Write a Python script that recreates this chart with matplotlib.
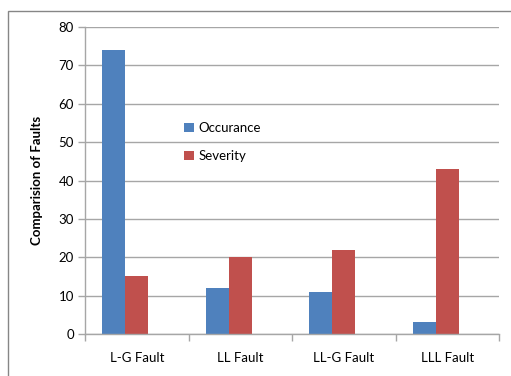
import matplotlib
matplotlib.use("Agg")
import matplotlib.pyplot as plt
from matplotlib.patches import Rectangle
import numpy as np

categories = ["L-G Fault", "LL Fault", "LL-G Fault", "LLL Fault"]
occurance = [74, 12, 11, 3]
severity = [15, 20, 22, 43]

BLUE = "#4F81BD"
RED = "#C0504D"
GRID = "#A6A6A6"
FS = 9.5

plt.rcParams["font.family"] = ["Lato", "DejaVu Sans"]

W, H = 511, 376
fig = plt.figure(figsize=(W / 100, H / 100), dpi=100)

# outer chart frame (only top and left edges fall inside the image)
fig.patches.append(Rectangle((8 / W, -0.1), 1.2, 1 - 11 / H + 0.1,
                             transform=fig.transFigure, fill=False,
                             edgecolor="#868686", linewidth=1.0))

ax = fig.add_axes([85 / W, 1 - 334 / H, (499 - 85) / W, (334 - 27) / H])

x = np.arange(len(categories))
w = 0.2222
ax.bar(x - w, occurance, width=w, color=BLUE, label="Occurance")
ax.bar(x, severity, width=w, color=RED, label="Severity")

ax.set_xlim(-0.5, len(categories) - 0.5)
ax.set_ylim(0, 80)
ax.set_yticks(range(0, 81, 10))
ax.yaxis.grid(True, color=GRID, linewidth=1.0)
ax.set_axisbelow(True)

ax.set_xticks(x)
ax.set_xticklabels(categories, fontsize=FS)
ax.tick_params(axis="x", length=0, pad=13)
ax.set_xticks(np.arange(-0.5, len(categories)), minor=True)
ax.tick_params(axis="x", which="minor", length=5, color=GRID, width=1.0)
ax.tick_params(axis="y", length=5, color=GRID, width=1.0, labelsize=FS, pad=3)

for side in ("top", "right"):
    ax.spines[side].set_visible(False)
for side in ("left", "bottom"):
    ax.spines[side].set_color(GRID)
    ax.spines[side].set_linewidth(1.0)

ax.set_ylabel("Comparision of Faults", fontsize=FS, fontweight="bold", labelpad=11)

ax.legend(loc="upper left", bbox_to_anchor=(184 / W, 1 - 122 / H),
          bbox_transform=fig.transFigure, frameon=False, fontsize=FS,
          handlelength=0.72, handleheight=0.72, handletextpad=0.35,
          labelspacing=1.2, borderpad=0, borderaxespad=0)

fig.savefig("out.png", dpi=100)
